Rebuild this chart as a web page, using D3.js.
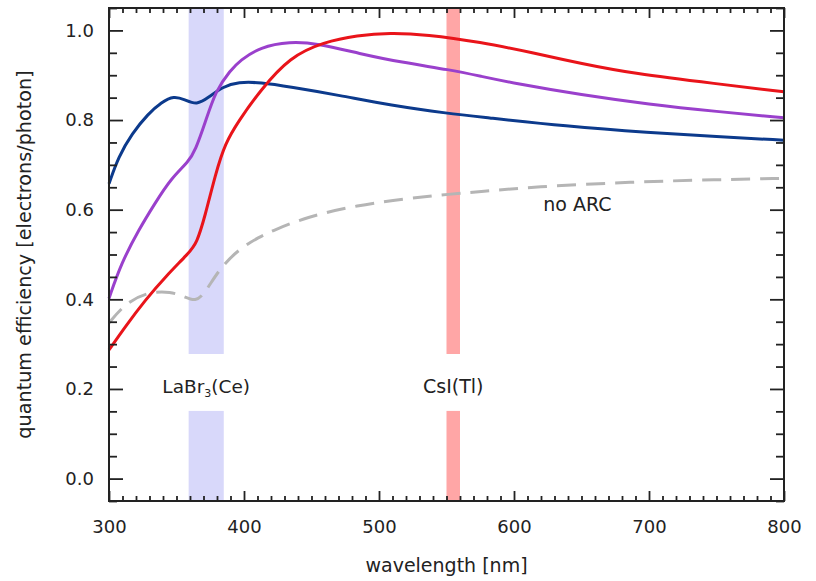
<!DOCTYPE html>
<html>
<head>
<meta charset="utf-8">
<script src="https://cdn.jsdelivr.net/npm/d3@7"></script>
<style>
  body { margin: 0; background: #fff; }
  text { font-family: "DejaVu Sans", Verdana, sans-serif; fill: #222; }
</style>
</head>
<body>
<div id="chart"></div>
<script>
// quantum efficiency curves
let blueNm = [300, 307, 317, 329, 339, 348, 356, 365, 374, 384, 396, 412, 434, 471, 508, 553, 575, 639, 700, 750, 800];
let blueQe = [0.658, 0.718, 0.770, 0.814, 0.840, 0.854, 0.846, 0.833, 0.851, 0.874, 0.885, 0.884, 0.874, 0.855, 0.833, 0.814, 0.807, 0.786, 0.772, 0.763, 0.755];

let purpleNm = [300, 309, 322, 334, 346, 359, 364, 371, 379, 390, 397, 412, 434, 454, 486, 516, 553, 575, 600, 650, 700, 750, 800];
let purpleQe = [0.402, 0.480, 0.555, 0.614, 0.670, 0.707, 0.733, 0.792, 0.866, 0.911, 0.933, 0.963, 0.975, 0.971, 0.948, 0.929, 0.912, 0.898, 0.882, 0.856, 0.835, 0.819, 0.805];

let redNm = [300, 312, 327, 342, 359, 365, 371, 379, 386, 396, 412, 434, 459, 484, 508, 535, 575, 614, 650, 688, 750, 800];
let redQe = [0.287, 0.339, 0.399, 0.451, 0.503, 0.525, 0.584, 0.681, 0.748, 0.798, 0.866, 0.941, 0.974, 0.989, 0.995, 0.991, 0.974, 0.950, 0.926, 0.904, 0.881, 0.863];

let grayNm = [300, 312, 329, 346, 356, 364, 371, 381, 396, 412, 419, 446, 484, 521, 553, 575, 614, 688, 750, 800];
let grayQe = [0.347, 0.391, 0.417, 0.417, 0.406, 0.395, 0.413, 0.465, 0.512, 0.540, 0.550, 0.584, 0.610, 0.625, 0.635, 0.640, 0.651, 0.662, 0.667, 0.670];

// scintillator emission bands [nm]
let bandNames = ["LaBr3(Ce)", "CsI(Tl)"];
let bandFrom = [359, 550];
let bandTo = [385, 560];

let xMajor = [300, 400, 500, 600, 700, 800];
let yMajor = [0.0, 0.2, 0.4, 0.6, 0.8, 1.0];

let width = 816;
let height = 581;
let plotLeft = 109, plotRight = 784, plotTop = 8, plotBottom = 501;

let svg = d3.select("#chart").append("svg")
  .attr("width", width)
  .attr("height", height);

let x = d3.scaleLinear().domain([300, 800]).range([plotLeft, plotRight]);
let y = d3.scaleLinear().domain([-0.05, 1.05]).range([plotBottom, plotTop]);

let xMinor = d3.range(300, 801, 10).filter(d => d % 100 != 0);
let yMinor = d3.range(-0.05, 1.051, 0.05).map(d => +d.toFixed(2)).filter(d => Math.round(d * 100) % 20 != 0);

// bands, split where the label sits
let gapLo = 0.151, gapHi = 0.278;
let bandColors = ["#d8d8fa", "#ffa6a6"];
bandNames.forEach(function(name, i) {
  [[gapHi, 1.05], [-0.05, gapLo]].forEach(function(seg) {
    svg.append("rect")
      .attr("x", x(bandFrom[i]))
      .attr("width", x(bandTo[i]) - x(bandFrom[i]))
      .attr("y", y(seg[1]))
      .attr("height", y(seg[0]) - y(seg[1]))
      .attr("fill", bandColors[i]);
  });
});

// curves
let line = d3.line()
  .x(d => x(d[0]))
  .y(d => y(d[1]))
  .curve(d3.curveBasis);

let series = [
  { nm: grayNm, qe: grayQe, color: "#b5b5b5", dash: "19,10" },
  { nm: blueNm, qe: blueQe, color: "#0c3a8c", dash: null },
  { nm: purpleNm, qe: purpleQe, color: "#9a40cc", dash: null },
  { nm: redNm, qe: redQe, color: "#e9141a", dash: null }
];

series.forEach(function(s) {
  svg.append("path")
    .datum(s.nm.map((d, i) => [d, s.qe[i]]))
    .attr("d", line)
    .attr("fill", "none")
    .attr("stroke", s.color)
    .attr("stroke-width", 3)
    .attr("stroke-dasharray", s.dash);
});

// axes
function styleAxis(g) {
  g.select(".domain").remove();
  g.selectAll(".tick line").attr("stroke", "#222").attr("stroke-width", 1.8);
  g.selectAll(".tick text")
    .style("font-family", "'DejaVu Sans', Verdana, sans-serif")
    .style("font-size", "18px")
    .attr("fill", "#222");
}

svg.append("g").attr("transform", "translate(0," + plotBottom + ")")
  .call(d3.axisBottom(x).tickValues(xMajor).tickSize(-10).tickPadding(19).tickFormat(d3.format("d")))
  .call(styleAxis);
svg.append("g").attr("transform", "translate(0," + plotBottom + ")")
  .call(d3.axisBottom(x).tickValues(xMinor).tickSize(-5).tickFormat(""))
  .call(styleAxis);
svg.append("g").attr("transform", "translate(0," + plotTop + ")")
  .call(d3.axisTop(x).tickValues(xMajor).tickSize(-10).tickFormat(""))
  .call(styleAxis);
svg.append("g").attr("transform", "translate(0," + plotTop + ")")
  .call(d3.axisTop(x).tickValues(xMinor).tickSize(-5).tickFormat(""))
  .call(styleAxis);

svg.append("g").attr("transform", "translate(" + plotLeft + ",0)")
  .call(d3.axisLeft(y).tickValues(yMajor).tickSize(-14).tickPadding(15).tickFormat(d3.format(".1f")))
  .call(styleAxis);
svg.append("g").attr("transform", "translate(" + plotLeft + ",0)")
  .call(d3.axisLeft(y).tickValues(yMinor).tickSize(-8).tickFormat(""))
  .call(styleAxis);
svg.append("g").attr("transform", "translate(" + plotRight + ",0)")
  .call(d3.axisRight(y).tickValues(yMajor).tickSize(-14).tickFormat(""))
  .call(styleAxis);
svg.append("g").attr("transform", "translate(" + plotRight + ",0)")
  .call(d3.axisRight(y).tickValues(yMinor).tickSize(-8).tickFormat(""))
  .call(styleAxis);

svg.append("rect")
  .attr("x", plotLeft).attr("y", plotTop)
  .attr("width", plotRight - plotLeft).attr("height", plotBottom - plotTop)
  .attr("fill", "none")
  .attr("stroke", "#222")
  .attr("stroke-width", 2);

// titles
svg.append("text")
  .attr("x", (plotLeft + plotRight) / 2)
  .attr("y", 572)
  .attr("text-anchor", "middle")
  .style("font-size", "19px")
  .text("wavelength [nm]");

svg.append("text")
  .attr("transform", "translate(31," + (plotTop + plotBottom) / 2 + ")rotate(-90)")
  .attr("text-anchor", "middle")
  .style("font-size", "19.2px")
  .text("quantum efficiency [electrons/photon]");

// annotations
let labLa = svg.append("text")
  .attr("x", x((bandFrom[0] + bandTo[0]) / 2))
  .attr("y", y(0.19))
  .attr("text-anchor", "middle")
  .style("font-size", "18.5px");
labLa.append("tspan").text("LaBr");
labLa.append("tspan").attr("dy", 4).style("font-size", "11px").text("3");
labLa.append("tspan").attr("dy", -4).text("(Ce)");

svg.append("text")
  .attr("x", x((bandFrom[1] + bandTo[1]) / 2))
  .attr("y", y(0.19))
  .attr("text-anchor", "middle")
  .style("font-size", "19px")
  .text("CsI(Tl)");

svg.append("text")
  .attr("x", x(647))
  .attr("y", y(0.596))
  .attr("text-anchor", "middle")
  .style("font-size", "19px")
  .text("no ARC");
</script>
</body>
</html>
